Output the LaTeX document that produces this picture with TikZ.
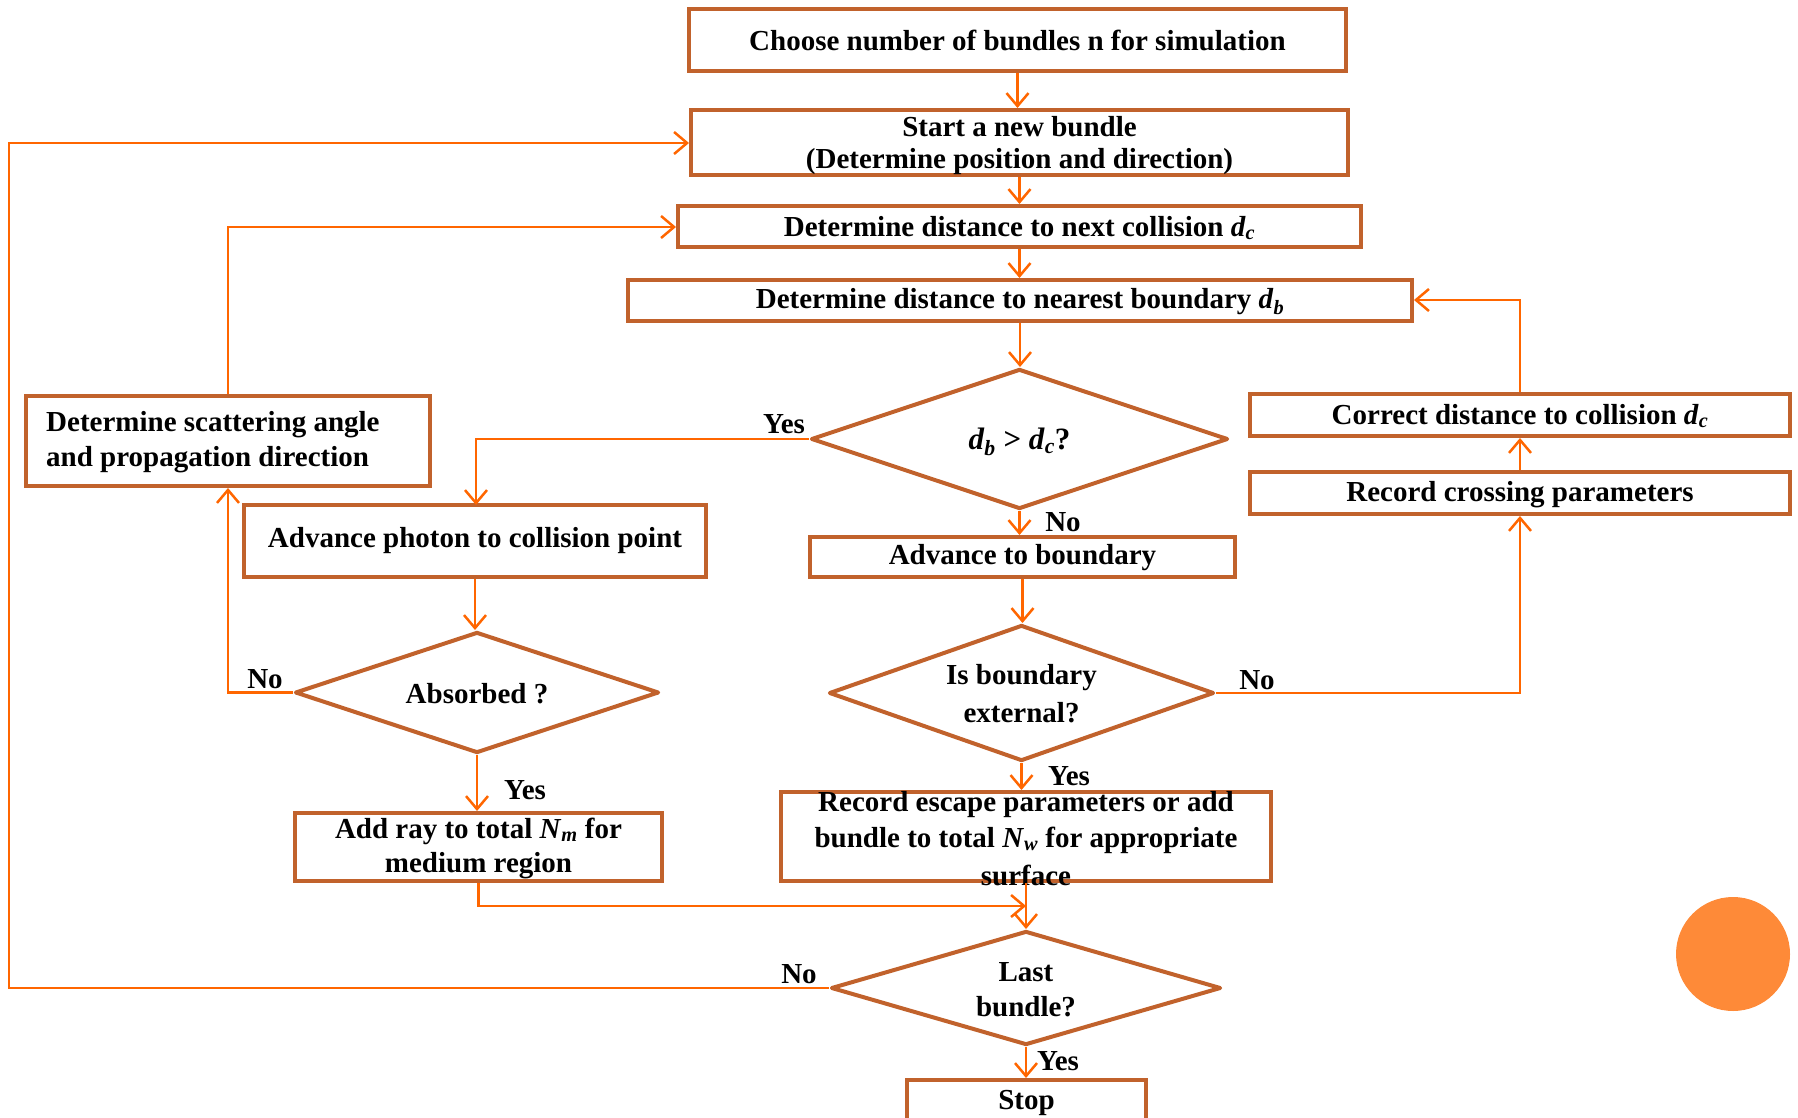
\documentclass[tikz,border=0pt]{standalone}
\usepackage{fontspec}
\setmainfont{Liberation Serif}
\usetikzlibrary{shapes.geometric,arrows.meta}
\definecolor{boxc}{RGB}{193,98,44}
\definecolor{linec}{RGB}{255,102,0}
\definecolor{dotc}{RGB}{254,138,56}
\newcommand\vsub[2]{\textit{#1}\textsubscript{\textit{#2}}}
\tikzset{
  box/.style={draw=boxc, line width=4pt, rectangle, inner sep=0pt},
  dia/.style={draw=boxc, line width=4pt, diamond, inner sep=0pt, line join=round},
  txt/.style={font=\fontsize{29}{35}\selectfont\bfseries, align=center, inner sep=0pt},
  lbl/.style={font=\fontsize{29}{35}\selectfont\bfseries, inner sep=0pt},
  conn/.style={draw=linec, line width=2.5pt, -{Straight Barb[length=13pt,width=22pt,line width=2.5pt]}},
  plain/.style={draw=linec, line width=2.5pt}
}
\begin{document}
\begin{tikzpicture}[x=1pt,y=-1pt]
\useasboundingbox (0,0) rectangle (1798,1118);
% boxes
\node[box, minimum width=657pt, minimum height=62pt] (b1) at (1017.5,40) {};
\node[txt] at (b1.center) {Choose number of bundles n for simulation};
\node[box, minimum width=657pt, minimum height=65pt] (b2) at (1019.5,142.5) {};
\node[txt] at (1019.5,127) {Start a new bundle};
\node[txt] at (1019.5,162) {(Determine position and direction)};
\node[box, minimum width=683pt, minimum height=41pt] (b3) at (1019.5,226.5) {};
\node[txt] at (1019.5,228) {Determine distance to next collision \vsub{d}{c}};
\node[box, minimum width=784pt, minimum height=41pt] (b4) at (1020,300.5) {};
\node[txt] at (1020,302) {Determine distance to nearest boundary \vsub{d}{b}};
\node[dia, minimum width=417pt, minimum height=140pt] (d1) at (1019.5,439) {};
\node[txt, font=\fontsize{31}{35}\selectfont\bfseries] at (1019.5,442) {\vsub{d}{b} > \vsub{d}{c}?};
\node[box, minimum width=404pt, minimum height=90pt] (sc) at (228,441) {};
\node[txt, align=left, anchor=west] at (46,442) {Determine scattering angle\\and propagation direction};
\node[box, minimum width=462pt, minimum height=72pt] (ap) at (475,541) {};
\node[txt] at (ap.center) {Advance photon to collision point};
\node[dia, minimum width=364pt, minimum height=121pt] (ab) at (477,692.5) {};
\node[txt] at (477,694) {Absorbed ?};
\node[box, minimum width=367pt, minimum height=68pt] (ar) at (478.5,847) {};
\node[txt] at (478.5,831) {Add ray to total \vsub{N}{m} for};
\node[txt] at (478.5,866) {medium region};
\node[box, minimum width=540pt, minimum height=42pt] (cd) at (1520,415) {};
\node[txt] at (1520,416) {Correct distance to collision \vsub{d}{c}};
\node[box, minimum width=540pt, minimum height=42pt] (rc) at (1520,493) {};
\node[txt] at (1520,495) {Record crossing parameters};
\node[box, minimum width=425pt, minimum height=40pt] (atb) at (1022.5,557) {};
\node[txt] at (1022.5,558) {Advance to boundary};
\node[dia, minimum width=385pt, minimum height=136pt] (ib) at (1021.5,693) {};
\node[txt] at (1021.5,678) {Is boundary};
\node[txt] at (1021.5,713) {external?};
\node[box, minimum width=490pt, minimum height=89pt] (re) at (1026,836.5) {};
\node[txt] at (1026,805) {Record escape parameters or add};
\node[txt] at (1026,840) {bundle to total \vsub{N}{w} for appropriate};
\node[txt] at (1026,875) {surface};
\node[dia, minimum width=390pt, minimum height=114pt] (lb) at (1026,988) {};
\node[txt] at (1026,972) {Last};
\node[txt] at (1026,1007) {bundle?};
\node[box, minimum width=239pt, minimum height=50pt] (st) at (1026.5,1105) {};
\node[txt] at (1026.5,1103) {Stop};
% orange dot
\fill[dotc] (1733,954) circle (57);
% coordinates
\coordinate (mj) at (1026,906);
% straight connectors
\draw[conn] (b1.south) -- (b1.south |- b2.north);
\draw[conn] (b2.south) -- (b2.south |- b3.north);
\draw[conn] (b3.south) -- (b3.south |- b4.north);
\draw[conn] (b4.south) -- (b4.south |- d1.north);
\draw[conn] (d1.south) -- (d1.south |- atb.north);
\draw[conn] (atb.south) -- (atb.south |- ib.north);
\draw[conn] (ib.south) -- (ib.south |- re.north);
\draw[conn] (re.south) -- (lb.north);
\draw[conn] (lb.south) -- (lb.south |- st.north);
\draw[conn] (ap.south) -- (ap.south |- ab.north);
\draw[conn] (ab.south) -- (ab.south |- ar.north);
\draw[conn] (rc.north) -- (rc.north |- cd.south);
% loops
\draw[conn] (lb.west) -- (9,988) -- (9,143) -- (b2.west |- 0,143);
\draw[conn] (sc.north) -- (228,227) -- (b3.west |- 0,227);
\draw[conn] (d1.west) -- (476,439) -- (476,505);
\draw[conn] (ab.west) -- (228,692.5) -- (sc.south);
\draw[conn] (ib.east) -- (1520,693) -- (rc.south);
\draw[conn] (cd.north) -- (1520,300) -- (b4.east |- 0,300);
\draw[conn] (ar.south) -- (478.5,906) -- (mj);
% labels
\node[lbl] at (784,424) {Yes};
\node[lbl] at (1063,522) {No};
\node[lbl] at (265,679) {No};
\node[lbl] at (525,790) {Yes};
\node[lbl] at (1257,680) {No};
\node[lbl] at (1069,776) {Yes};
\node[lbl] at (799,974) {No};
\node[lbl] at (1058,1061) {Yes};
\end{tikzpicture}
\end{document}
